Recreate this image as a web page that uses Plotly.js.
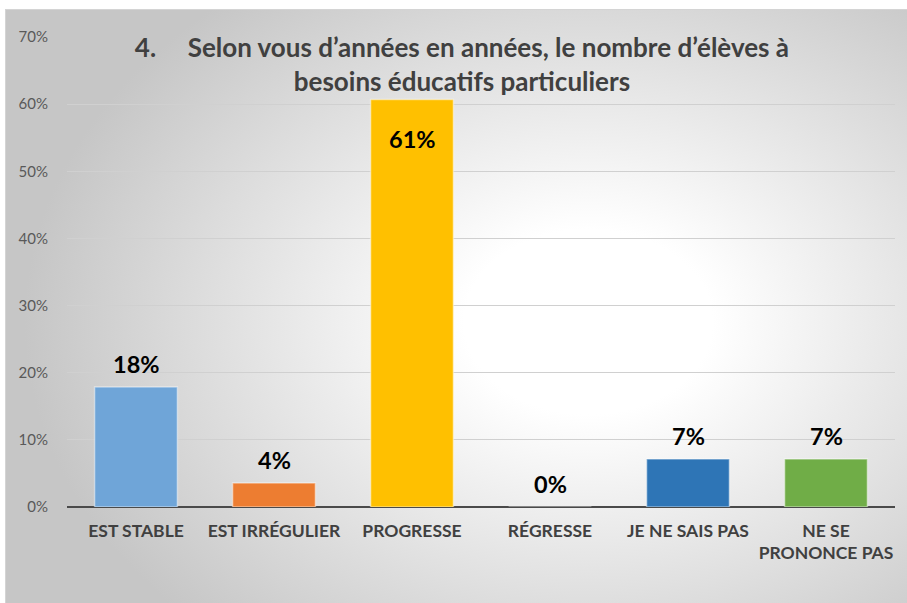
<!DOCTYPE html>
<html>
<head>
<meta charset="utf-8">
<script src="https://cdn.plot.ly/plotly-3.0.1.min.js"></script>
<style>
  html, body { margin: 0; padding: 0; background: #ffffff; overflow: hidden; }
  #bg { position: absolute; left: 5px; top: 9px; width: 910px; height: 600px;
        border-left: 1px solid #d4d4d4; border-top: 1px solid #d4d4d4;
        background: radial-gradient(ellipse 62% 70% at 64% 52%, #ffffff 0%, #ffffff 22%, #c6c6c6 100%); }
  #chart { position: absolute; left: 0; top: 0; width: 907px; height: 603px; }
</style>
</head>
<body>
<div id="bg"></div>
<div id="chart"></div>
<script>
const categories = ['EST STABLE', 'EST IRRÉGULIER', 'PROGRESSE', 'RÉGRESSE', 'JE NE SAIS PAS', 'NE SE<br>PRONONCE PAS'];
const values = [17.86, 3.57, 60.71, 0, 7.14, 7.14];
const valueLabels = ['18%', '4%', '61%', '0%', '7%', '7%'];
const barColors = ['#6fa5d8', '#ed7d31', '#ffc000', '#a5a5a5', '#2e75b6', '#70ad47'];
const titleText = '4.&nbsp;&nbsp;&nbsp;&nbsp; Selon vous d\u2019années en années, le nombre d\u2019élèves à<br>besoins éducatifs particuliers';

const FONT = 'Lato, "Open Sans", sans-serif';

const trace = {
  type: 'bar',
  x: categories,
  y: values,
  marker: { color: barColors, line: { color: 'rgba(255,255,255,0.45)', width: 1.5 } },
  width: 0.6,
  hoverinfo: 'none'
};

const annotations = categories.map((c, i) => {
  const inside = values[i] > 50;
  return {
    x: c, y: values[i], xref: 'x', yref: 'y',
    text: '<b>' + valueLabels[i] + '</b>',
    showarrow: false,
    yanchor: 'middle',
    yshift: inside ? -40 : 23,
    font: { family: FONT, size: 23.5, color: '#000000' }
  };
});

const layout = {
  width: 907, height: 603,
  paper_bgcolor: 'rgba(0,0,0,0)',
  plot_bgcolor: 'rgba(0,0,0,0)',
  margin: { l: 67, r: 12, t: 37, b: 96 },
  showlegend: false,
  title: {
    text: '<b>' + titleText + '</b>',
    font: { family: FONT, size: 26, color: '#404040' },
    x: 0.477, xref: 'paper', xanchor: 'center',
    y: 1 - 57 / 603, yref: 'container', yanchor: 'middle'
  },
  xaxis: {
    type: 'category',
    showgrid: false, zeroline: false, showline: false,
    ticks: '', ticklabelstandoff: 11,
    tickfont: { family: FONT, size: 17.5, color: '#404040', weight: 'bold' },
    fixedrange: true
  },
  yaxis: {
    range: [0, 70], dtick: 10, ticksuffix: '%',
    showgrid: true, gridcolor: '#d0d0d0', gridwidth: 1,
    zeroline: true, zerolinecolor: '#4a4a4a', zerolinewidth: 2.5,
    showline: false, ticks: '', ticklabelstandoff: 18,
    tickfont: { family: FONT, size: 15, color: '#595959' },
    fixedrange: true
  },
  annotations: annotations,
  bargap: 0.4
};

Plotly.newPlot('chart', [trace], layout, { displayModeBar: false, staticPlot: true });
</script>
</body>
</html>
